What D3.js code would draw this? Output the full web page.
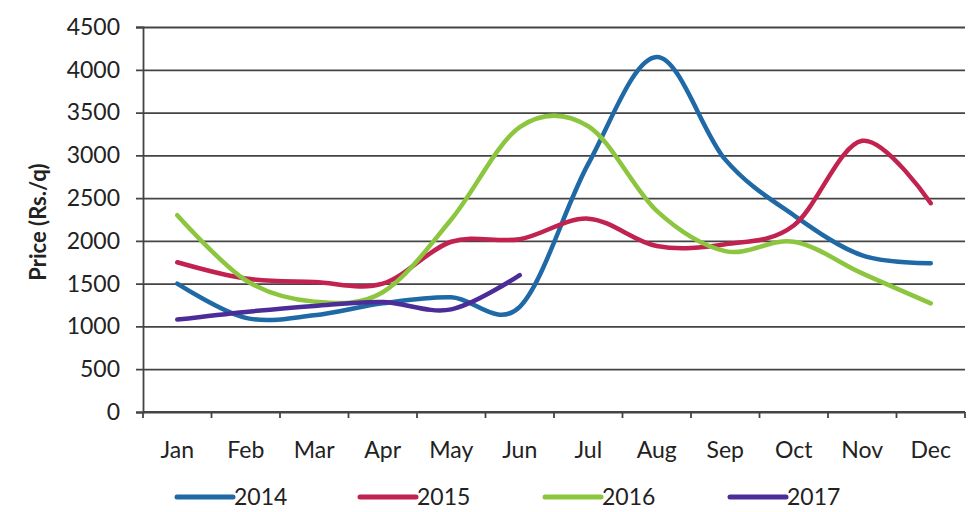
<!DOCTYPE html>
<html>
<head>
<meta charset="utf-8">
<script src="https://cdn.jsdelivr.net/npm/d3@7"></script>
<style>
  body { margin: 0; background: #fff; }
  svg text { font-family: Lato, "Open Sans", sans-serif; fill: #222; }
</style>
</head>
<body>
<div id="chart"></div>
<script>
var months = ["Jan", "Feb", "Mar", "Apr", "May", "Jun", "Jul", "Aug", "Sep", "Oct", "Nov", "Dec"];
var yTicks = [0, 500, 1000, 1500, 2000, 2500, 3000, 3500, 4000, 4500];
var years = ["2014", "2015", "2016", "2017"];

var price2014 = [1500, 1100, 1130, 1270, 1340, 1230, 2900, 4150, 2950, 2300, 1830, 1740];
var price2015 = [1750, 1560, 1520, 1500, 1990, 2020, 2260, 1940, 1960, 2180, 3170, 2440];
var price2016 = [2300, 1540, 1290, 1400, 2250, 3330, 3340, 2350, 1880, 1990, 1620, 1270];
var price2017 = [1080, 1170, 1240, 1285, 1200, 1600];

var colors = ["#1f69a6", "#c2224f", "#8cc63e", "#4b2c98"];
var series = [price2014, price2015, price2016, price2017];

var W = 970, H = 512;
var plotL = 143, plotR = 965, plotT = 27, plotB = 412;

var svg = d3.select("#chart").append("svg")
    .attr("width", W)
    .attr("height", H);

var x = d3.scaleBand().domain(months).range([plotL, plotR]).padding(0);
var y = d3.scaleLinear().domain([0, 4500]).range([plotB, plotT]);

// gridlines + y labels
var yAxis = svg.append("g")
    .attr("transform", "translate(" + plotL + ",0)")
    .call(d3.axisLeft(y).tickValues(yTicks).tickFormat(d3.format("d"))
      .tickSize(7).tickPadding(16));
yAxis.select(".domain").attr("stroke", "#444").attr("stroke-width", 1.8);
yAxis.selectAll(".tick line").attr("stroke", "#444").attr("stroke-width", 1.8)
    .attr("x2", plotR - plotL).attr("x1", -7);
yAxis.selectAll(".tick text").style("font-size", "23px")
    .style("font-family", "Lato, sans-serif").attr("fill", "#222");

// x axis, ticks sit between categories
var xg = svg.append("g");
xg.append("line")
    .attr("x1", plotL).attr("x2", plotR)
    .attr("y1", plotB).attr("y2", plotB)
    .attr("stroke", "#444").attr("stroke-width", 1.8);
xg.selectAll(".xt")
    .data(d3.range(months.length + 1))
    .enter().append("line")
    .attr("x1", function(i) { return plotL + i * x.step(); })
    .attr("x2", function(i) { return plotL + i * x.step(); })
    .attr("y1", plotB).attr("y2", plotB + 6)
    .attr("stroke", "#444").attr("stroke-width", 1.8);
xg.selectAll(".xl")
    .data(months)
    .enter().append("text")
    .attr("x", function(d) { return x(d) + x.bandwidth() / 2; })
    .attr("y", 458)
    .attr("text-anchor", "middle")
    .style("font-size", "23px")
    .text(function(d) { return d; });

// y title
svg.append("text")
    .attr("transform", "translate(46,222) rotate(-90)")
    .attr("text-anchor", "middle")
    .style("font-size", "22px")
    .style("font-weight", "bold")
    .text("Price (Rs./q)");

// lines
var line = d3.line()
    .x(function(d, i) { return x(months[i]) + x.bandwidth() / 2; })
    .y(function(d) { return y(d); })
    .curve(d3.curveCatmullRom.alpha(0));

svg.selectAll(".series")
    .data(series)
    .enter().append("path")
    .attr("d", line)
    .attr("fill", "none")
    .attr("stroke", function(d, i) { return colors[i]; })
    .attr("stroke-width", 4.5)
    .attr("stroke-linecap", "round")
    .attr("stroke-linejoin", "round");

// legend
var legX = [177, 360, 545, 730];
var leg = svg.selectAll(".leg")
    .data(years)
    .enter().append("g")
    .attr("transform", function(d, i) { return "translate(" + legX[i] + ",497)"; });
leg.append("line")
    .attr("x1", 0).attr("x2", 56)
    .attr("stroke", function(d, i) { return colors[i]; })
    .attr("stroke-width", 5)
    .attr("stroke-linecap", "round");
leg.append("text")
    .attr("x", 57).attr("y", 8)
    .style("font-size", "23px")
    .text(function(d) { return d; });
</script>
</body>
</html>
